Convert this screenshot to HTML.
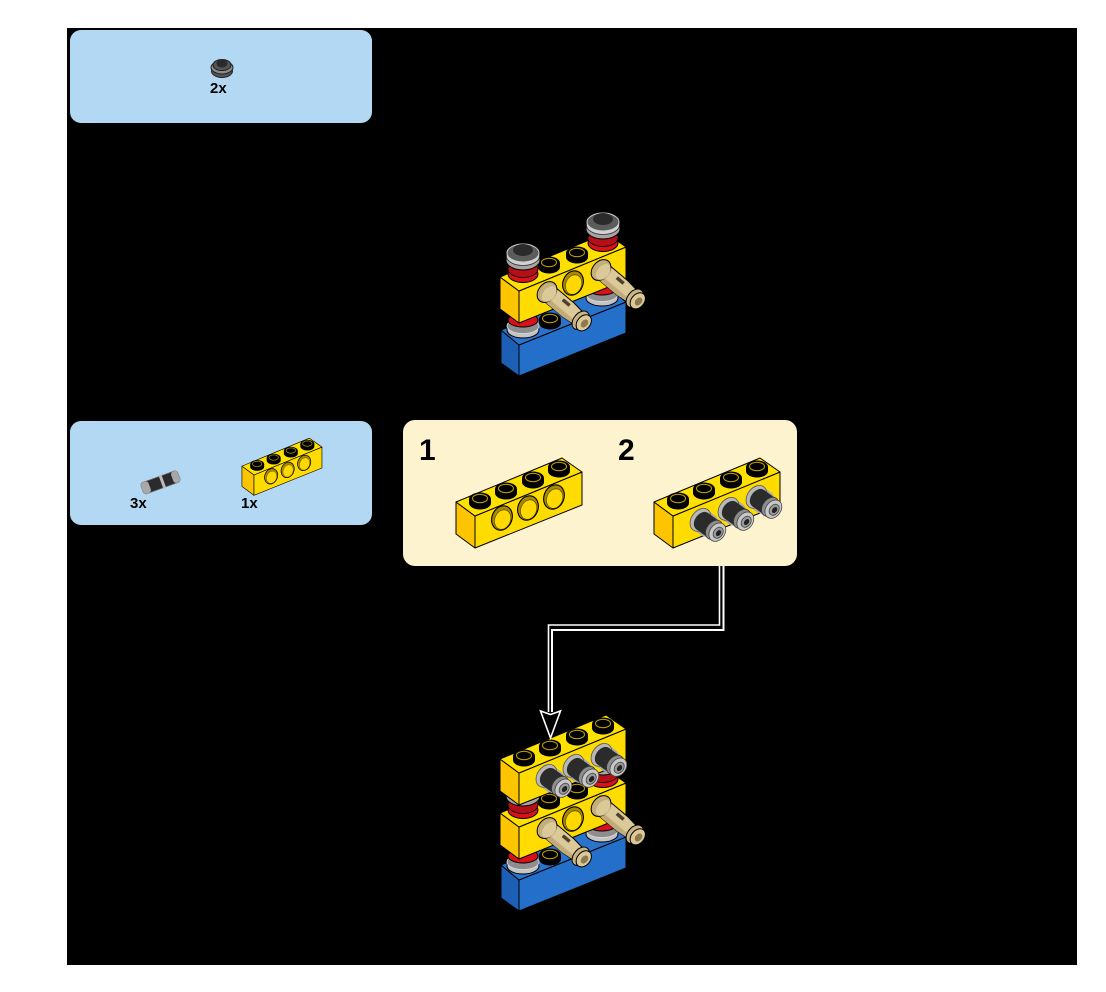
<!DOCTYPE html>
<html><head><meta charset="utf-8"><style>
html,body{margin:0;padding:0;background:#fff}
svg{display:block}
text{font-family:"Liberation Sans",sans-serif;font-weight:bold;fill:#000}
</style></head><body>
<svg width="1106" height="992" viewBox="0 0 1106 992" xmlns="http://www.w3.org/2000/svg">
<defs>
<g id="stud">
  <path d="M-11,0 V4 A11,6.5 0 0 0 11,4 V0 Z" fill="#000"/>
  <ellipse cx="0" cy="0" rx="11" ry="6.5" fill="#000"/>
  <ellipse cx="0" cy="-.5" rx="7.5" ry="4.2" fill="none" stroke="#b89800" stroke-width="1.1"/>
</g>
<g id="hole">
  <ellipse cx="0" cy="0" rx="10" ry="12.5" transform="rotate(22)" fill="#a88b00" stroke="#000" stroke-width="1.1"/>
  <ellipse cx="1.2" cy="1.2" rx="7.8" ry="10" transform="rotate(22)" fill="#ffd800" stroke="#3a3000" stroke-width=".5"/>
</g>
<g id="body-y" stroke="#000" stroke-width="1" stroke-linejoin="round">
  <path d="M-19,-14 L0,0 L0,32 L-19,18 Z" fill="#fdc400"/>
  <path d="M0,0 L107,-44 L107,-11 L0,32 Z" fill="#ffdc00"/>
  <path d="M-19,-14 L87,-58 L107,-44 L0,0 Z" fill="#ffe100"/>
</g>
<g id="brick">
  <use href="#body-y"/>
  <use href="#stud" x="5" y="-17"/><use href="#stud" x="31" y="-27"/>
  <use href="#stud" x="58" y="-38"/><use href="#stud" x="84" y="-49"/>
</g>
<g id="holes">
  <use href="#hole" x="27" y="2"/><use href="#hole" x="53" y="-8"/><use href="#hole" x="79" y="-19"/>
</g>
<g id="blue" stroke="#000" stroke-width="1" stroke-linejoin="round">
  <path d="M-18,-15 L0,0 L0,31 L-18,18 Z" fill="#1c5fb4"/>
  <path d="M0,0 L107,-43 L107,-12 L0,31 Z" fill="#246fca"/>
  <path d="M-18,-15 L89,-58 L107,-43 L0,0 Z" fill="#2a74ce"/>
</g>
<g id="upper">
  <ellipse cx="0" cy="22" rx="15" ry="8.5" fill="#d8111b" stroke="#000"/>
  <ellipse cx="0" cy="17" rx="15" ry="8.5" fill="#b50f18" stroke="#000" stroke-width=".8"/>
  <ellipse cx="0" cy="8" rx="17" ry="10" fill="#a5a5a5" stroke="#000"/>
  <ellipse cx="0" cy="4" rx="16.5" ry="9.5" fill="#d2d2d2" stroke="#333" stroke-width=".8"/>
  <ellipse cx="0" cy="1" rx="16" ry="9" fill="#5c5c5c" stroke="#ccc" stroke-width="1"/>
  <ellipse cx="0" cy="-2" rx="10" ry="6" fill="#2b2b2b"/>
</g>
<g id="lower">
  <ellipse cx="0" cy="10" rx="16" ry="8" fill="#c4c4c4" stroke="#000"/>
  <ellipse cx="0" cy="6" rx="16" ry="7.5" fill="#8e8e8e" stroke="#ddd" stroke-width=".8"/>
  <ellipse cx="0" cy="0" rx="15" ry="7" fill="#d8111b" stroke="#000"/>
</g>
<g id="tan" stroke="#000" stroke-width="1">
  <path d="M2,-9 L28,-9 L46,-7 L46,7 L28,9 L2,9 Z" fill="#dcc99a"/>
  <path d="M4,4 H44 V7 L28,9 H4 Z" fill="#c2ab78" stroke="none"/>
  <ellipse cx="0" cy="0" rx="8.5" ry="11.5" fill="#c4ae7a"/>
  <ellipse cx="3" cy="0" rx="6" ry="9" fill="#dcc99a" stroke="none"/>
  <rect x="17" y="-6" width="9" height="3.5" fill="#4d4129" stroke="none"/>
  <ellipse cx="44" cy="0" rx="7" ry="10.5" fill="#c9b482"/>
  <ellipse cx="48" cy="0" rx="6.5" ry="9" fill="#dcc99a"/>
  <ellipse cx="49" cy="0" rx="3.2" ry="4.5" fill="#8d7a4e" stroke="none"/>
</g>
<g id="grey" stroke="#000" stroke-width=".8">
  <path d="M-3,-12 L8,-12 L19,-9 L19,9 L8,12 L-3,12 Z" fill="#a8a8a8" stroke="none"/>
  <ellipse cx="-2" cy="0" rx="9" ry="12.5" fill="#b8b8b8" stroke="#555"/>
  <ellipse cx="0" cy="0" rx="7" ry="10" fill="#2b2b2b" stroke="none"/>
  <path d="M0,-10 H13 V10 H0 Z" fill="#2b2b2b" stroke="none"/>
  <ellipse cx="15" cy="0" rx="7.5" ry="10.5" fill="#8d8d8d" stroke="#333"/>
  <ellipse cx="19" cy="0" rx="7.5" ry="10" fill="#c8c8c8" stroke="#444"/>
  <ellipse cx="20" cy="0" rx="4.5" ry="6" fill="#9a9a9a" stroke="#444"/>
  <ellipse cx="20.5" cy="0" rx="2.3" ry="3.3" fill="#222" stroke="none"/>
</g>
</defs>

<rect x="67" y="28" width="1010" height="937" fill="#000"/>
<rect x="70" y="30" width="302" height="93" rx="11" fill="#b3d8f3"/>
<rect x="70" y="421" width="302" height="104" rx="11" fill="#b3d8f3"/>
<rect x="403" y="420" width="394" height="146" rx="12" fill="#fdf4cf"/>

<!-- parts list 1 -->
<ellipse cx="222" cy="71" rx="10.5" ry="6.5" fill="#555" stroke="#222"/>
<ellipse cx="222" cy="67.5" rx="11" ry="6.5" fill="#8a8a8a" stroke="#222"/>
<ellipse cx="222" cy="65" rx="9" ry="5.5" fill="#555" stroke="#222"/>
<ellipse cx="222" cy="63.5" rx="5.5" ry="4" fill="#2b2b2b"/>
<text x="210" y="93" font-size="15">2x</text>

<!-- parts list 2 -->
<g transform="translate(145,488) rotate(-20)">
  <rect x="-3" y="-6" width="39" height="12" rx="3" fill="#2b2b2b" stroke="#666" stroke-width=".8"/>
  <rect x="-3" y="-6" width="8" height="12" rx="3" fill="#a8a8a8"/>
  <rect x="29" y="-6" width="7" height="12" rx="3" fill="#a8a8a8"/>
  <rect x="17" y="-7" width="3" height="14" fill="#bbb"/>
</g>
<text x="130" y="508" font-size="15">3x</text>
<g transform="translate(254,475) scale(.635)"><use href="#brick"/><use href="#holes"/></g>
<text x="241" y="508" font-size="15">1x</text>

<!-- callout -->
<text x="419" y="460" font-size="30">1</text>
<text x="618" y="460" font-size="30">2</text>
<g transform="translate(475,516)"><use href="#brick"/><use href="#holes"/></g>
<g transform="translate(673,516)"><use href="#brick"/></g>
<use href="#grey" transform="translate(702,521) rotate(36)"/>
<use href="#grey" transform="translate(730,510) rotate(36)"/>
<use href="#grey" transform="translate(758,498) rotate(36)"/>

<!-- step A -->
<use href="#blue" x="519" y="345"/>
<use href="#stud" x="550" y="319"/>
<use href="#lower" x="523" y="320"/>
<use href="#lower" x="602" y="288"/>
<g transform="translate(519,291)">
  <use href="#body-y"/>
  <use href="#stud" x="30" y="-28"/><use href="#stud" x="58" y="-38"/>
  <use href="#hole" x="54" y="-8"/>
</g>
<use href="#upper" x="523" y="252"/>
<use href="#upper" x="603" y="221"/>
<use href="#tan" transform="translate(547,292) rotate(40)"/>
<use href="#tan" transform="translate(601,270) rotate(40)"/>

<!-- step B -->
<use href="#blue" x="519" y="880"/>
<use href="#stud" x="550" y="855"/>
<use href="#lower" x="523" y="856"/>
<use href="#lower" x="602" y="824"/>
<g transform="translate(519,827)">
  <use href="#body-y"/>
  <use href="#stud" x="30" y="-28"/><use href="#stud" x="58" y="-38"/>
  <use href="#hole" x="54" y="-8"/>
</g>
<use href="#upper" x="523" y="788"/>
<use href="#upper" x="603" y="757"/>
<use href="#tan" transform="translate(547,828) rotate(40)"/>
<use href="#tan" transform="translate(601,806) rotate(40)"/>
<g transform="translate(519,773)"><use href="#brick"/></g>
<use href="#grey" transform="translate(548,777) rotate(36)"/>
<use href="#grey" transform="translate(575,767) rotate(36)"/>
<use href="#grey" transform="translate(603,756) rotate(36)"/>

<!-- connector -->
<g fill="none" stroke="#fff">
  <path d="M719.5,566 V625 H548.5 V712" stroke-width="1.6"/>
  <path d="M723.5,566 V630 H552 V712" stroke-width="2"/>
  <path d="M550.5,738 L540.5,711 L550.5,714.5 L560.5,711 Z" fill="#000" stroke-width="1.6" stroke-linejoin="miter"/>
</g>
</svg>
</body></html>
